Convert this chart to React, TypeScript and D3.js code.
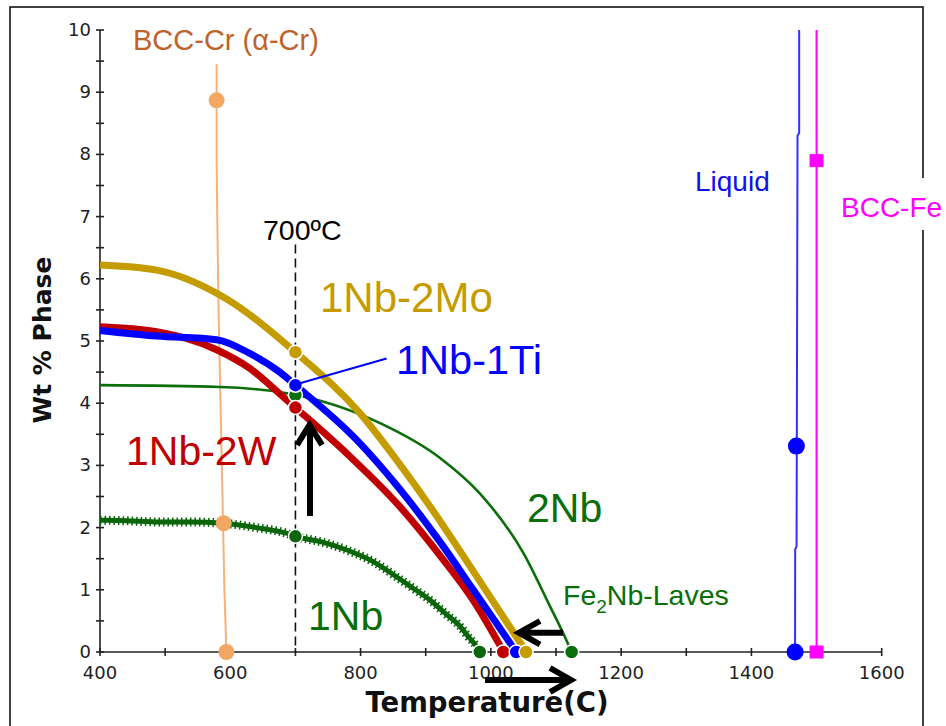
import React from 'react';
import * as d3 from 'd3';

const X_TICKS = [400, 600, 800, 1000, 1200, 1400, 1600];
const X_MINOR = [500, 700, 900, 1100, 1300, 1500];
const Y_TICKS = [0, 1, 2, 3, 4, 5, 6, 7, 8, 9, 10];
const Y_MINOR = [0.5, 1.5, 2.5, 3.5, 4.5, 5.5, 6.5, 7.5, 8.5, 9.5];

// 1Nb-2Mo (gold)
const MO_T = [400, 487, 584, 700, 799, 860, 912, 973, 1052];
const MO_V = [6.22, 6.14, 5.74, 4.82, 3.84, 3.02, 2.26, 1.3, 0.04];
// 1Nb-1Ti (blue)
const TI_T = [400, 487, 579, 630, 676, 700, 794, 860, 922, 973, 1037];
const TI_V = [5.17, 5.08, 5.02, 4.8, 4.5, 4.29, 3.41, 2.62, 1.77, 1.0, 0.03];
// 1Nb-2W (red)
const W_T = [400, 487, 579, 630, 676, 700, 780, 860, 922, 973, 1017];
const W_V = [5.23, 5.15, 4.86, 4.56, 4.15, 3.93, 3.18, 2.34, 1.55, 0.83, 0.05];
// 2Nb (green thin)
const NB2_T = [400, 584, 692, 738, 830, 922, 983, 1050, 1091, 1116, 1124];
const NB2_V = [4.29, 4.26, 4.15, 4.04, 3.68, 3.12, 2.55, 1.59, 0.73, 0.19, 0];
// 1Nb (green stars)
const NB1_T = [400, 440, 492, 540, 589, 640, 686, 700, 740, 779, 820, 855, 880, 906, 930, 953, 965, 978, 983];
const NB1_V = [2.12, 2.11, 2.09, 2.09, 2.07, 2.0, 1.91, 1.86, 1.77, 1.64, 1.45, 1.21, 1.03, 0.84, 0.62, 0.41, 0.25, 0.09, 0];
// BCC-Cr (alpha-Cr)
const CR_T = [579, 579, 580, 582, 585, 588, 591, 594];
const CR_V = [9.45, 8.0, 7.0, 5.5, 4.0, 2.5, 1.0, 0];
const CR_MARK_T = [579, 590, 594];
const CR_MARK_V = [8.87, 2.07, 0];
// Liquid
const LIQ_T = [1473.3, 1473.3, 1470.8, 1469.3, 1467.2, 1467];
const LIQ_V = [10, 8.35, 8.3, 1.7, 1.65, 0];
const LIQ_MARK_T = [1469, 1467];
const LIQ_MARK_V = [3.31, 0];
// BCC-Fe
const FE_T = [1500, 1500];
const FE_V = [10, 0];
const FE_MARK_T = [1500, 1500];
const FE_MARK_V = [7.9, 0];

const C_GOLD = '#c49c00';
const C_BLUE = '#0000ff';
const C_RED = '#c00000';
const C_GREEN = '#0a6e0a';
const C_GREEN1 = '#0b650b';
const C_ORANGE = '#f4b27c';
const C_ORANGE_MK = '#f2a862';
const C_MAG = '#ff00ff';

export default function App() {
  const x = d3.scaleLinear().domain([400, 1600]).range([100, 881.7]);
  const y = d3.scaleLinear().domain([0, 10]).range([652, 30]);
  const mk = (T: number[], V: number[], curve: any = d3.curveMonotoneX) =>
    d3.line<number>().x((_, i) => x(T[i])).y((v) => y(v)).curve(curve)(V) || '';

  const tickFont = { fontFamily: 'DejaVu Sans', fontSize: 18, fill: '#222' } as const;
  const labFont = 'Liberation Sans, Arial, sans-serif';

  const dot700 = [
    { v: 4.82, c: C_GOLD },
    { v: 4.13, c: C_GREEN },
    { v: 4.29, c: C_BLUE },
    { v: 3.93, c: C_RED },
    { v: 1.86, c: C_GREEN1 },
  ];
  const dotZero = [
    { t: 983, c: C_GREEN1 },
    { t: 1019, c: C_RED },
    { t: 1039, c: C_BLUE },
    { t: 1054, c: C_GOLD },
    { t: 1124, c: C_GREEN },
  ];

  return (
    <svg width={946} height={726} style={{ position: 'absolute', left: 0, top: 0, background: '#fff' }}>
      <rect x={0} y={0} width={946} height={726} fill="#fff" />
      <rect x={10} y={7} width={913} height={760} fill="none" stroke="#111" strokeWidth={1.6} />

      {/* axes */}
      <line x1={x(400)} x2={x(400)} y1={y(0)} y2={y(10)} stroke="#222" strokeWidth={1.6} />
      <line x1={x(400)} x2={x(1600)} y1={y(0)} y2={y(0)} stroke="#222" strokeWidth={1.6} />
      {Y_TICKS.concat(Y_MINOR).map((v) => (
        <line key={'yt' + v} x1={x(400) - 4} x2={x(400) + 4} y1={y(v)} y2={y(v)} stroke="#222" strokeWidth={1.6} />
      ))}
      {X_TICKS.concat(X_MINOR).map((t) => (
        <line key={'xt' + t} x1={x(t)} x2={x(t)} y1={y(0) - 4} y2={y(0) + 4} stroke="#222" strokeWidth={1.6} />
      ))}
      {Y_TICKS.map((v) => (
        <text key={'yl' + v} x={x(400) - 9} y={y(v) + 6} textAnchor="end" {...tickFont}>{v}</text>
      ))}
      {X_TICKS.map((t) => (
        <text key={'xl' + t} x={x(t)} y={y(0) + 27} textAnchor="middle" {...tickFont}>{t}</text>
      ))}
      <text x={487} y={712} textAnchor="middle" fontFamily="DejaVu Sans" fontWeight="bold" fontSize={27.5} fill="#111">Temperature(C)</text>
      <text transform="translate(51,340) rotate(-90)" textAnchor="middle" fontFamily="DejaVu Sans" fontWeight="bold" fontSize={25} fill="#111">Wt % Phase</text>

      {/* BCC-Cr line */}
      <path d={mk(CR_T, CR_V, d3.curveLinear)} fill="none" stroke={C_ORANGE} strokeWidth={2} />
      {/* 700 C dashed */}
      <line x1={x(700)} x2={x(700)} y1={y(6.55)} y2={y(0)} stroke="#111" strokeWidth={1.6} strokeDasharray="9,5" />

      {/* 2Nb */}
      <path d={mk(NB2_T, NB2_V)} fill="none" stroke={C_GREEN} strokeWidth={2.6} />
      {/* 1Nb stars */}
      <path d={mk(NB1_T, NB1_V)} fill="none" stroke={C_GREEN1} strokeWidth={5} />
      <path d={mk(NB1_T, NB1_V)} fill="none" stroke={C_GREEN1} strokeWidth={9} strokeDasharray="1.5,3" />
      {/* red, blue, gold */}
      <path d={mk(W_T, W_V)} fill="none" stroke={C_RED} strokeWidth={7} />
      <path d={mk(TI_T, TI_V)} fill="none" stroke={C_BLUE} strokeWidth={7} />
      <path d={mk(MO_T, MO_V)} fill="none" stroke={C_GOLD} strokeWidth={7} />

      {/* liquid, BCC-Fe */}
      <path d={mk(LIQ_T, LIQ_V, d3.curveLinear)} fill="none" stroke="#3030ff" strokeWidth={2} />
      <path d={mk(FE_T, FE_V, d3.curveLinear)} fill="none" stroke={C_MAG} strokeWidth={2} />

      {/* markers */}
      {CR_MARK_T.map((t, i) => (
        <circle key={'cr' + i} cx={x(t)} cy={y(CR_MARK_V[i])} r={8} fill={C_ORANGE_MK} />
      ))}
      {LIQ_MARK_T.map((t, i) => (
        <circle key={'lq' + i} cx={x(t)} cy={y(LIQ_MARK_V[i])} r={8.5} fill={C_BLUE} />
      ))}
      {FE_MARK_T.map((t, i) => (
        <rect key={'fe' + i} x={x(t) - 7} y={y(FE_MARK_V[i]) - 6.5} width={14} height={13} fill={C_MAG} />
      ))}
      {dot700.map((d, i) => (
        <circle key={'d7' + i} cx={x(700)} cy={y(d.v)} r={7} fill={d.c} stroke="#fff" strokeWidth={1.5} />
      ))}
      {dotZero.map((d, i) => (
        <circle key={'d0' + i} cx={x(d.t)} cy={y(0)} r={7} fill={d.c} stroke="#fff" strokeWidth={1.5} />
      ))}

      {/* leader line */}
      <line x1={x(700)} y1={y(4.3)} x2={x(840)} y2={y(4.72)} stroke={C_BLUE} strokeWidth={2} />

      {/* arrows */}
      <g stroke="#000" strokeWidth={6} fill="none" strokeLinejoin="miter">
        <line x1={310} y1={516} x2={310} y2={426} />
        <polyline points="297,445 309.5,425 322,445" />
        <line x1={563} y1={632.7} x2={521} y2={632.7} />
        <polyline points="540,621 519,632.7 540,644.5" />
        <line x1={485} y1={680} x2={569} y2={680} />
        <polyline points="550,668 571,680 550,692" />
      </g>

      {/* labels */}
      <text x={133} y={50} fontFamily={labFont} fontSize={29} fill="#c0622c">BCC-Cr (α-Cr)</text>
      <text x={263} y={240} fontFamily={labFont} fontSize={28.5} fill="#000">700ºC</text>
      <text x={320} y={312} fontFamily={labFont} fontSize={42} fill={C_GOLD}>1Nb-2Mo</text>
      <text x={396} y={374} fontFamily={labFont} fontSize={41.5} fill={C_BLUE}>1Nb-1Ti</text>
      <text x={126} y={465} fontFamily={labFont} fontSize={41} fill={C_RED}>1Nb-2W</text>
      <text x={527} y={522} fontFamily={labFont} fontSize={41} fill={C_GREEN}>2Nb</text>
      <text x={308} y={630} fontFamily={labFont} fontSize={41} fill={C_GREEN}>1Nb</text>
      <text x={563} y={605} fontFamily={labFont} fontSize={28.5} fill={C_GREEN}>
        Fe<tspan fontSize={19} dy={8}>2</tspan><tspan dy={-8}>Nb-Laves</tspan>
      </text>
      <text x={695} y={191} fontFamily={labFont} fontSize={28} fill="#1010e8">Liquid</text>
      <rect x={834} y={178} width={112} height={52} fill="#fff" />
      <text x={841} y={217} fontFamily={labFont} fontSize={28} fill={C_MAG}>BCC-Fe</text>
    </svg>
  );
}
